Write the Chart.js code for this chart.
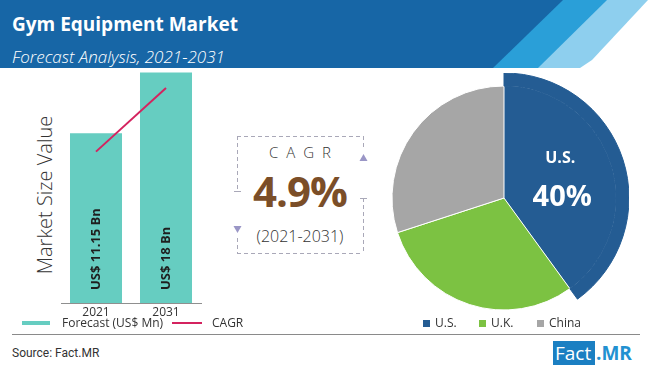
<!DOCTYPE html>
<html>
<head>
<meta charset="utf-8">
<script src="https://cdn.jsdelivr.net/npm/chart.js@4.4.1/dist/chart.umd.min.js"></script>
<style>
  body { margin: 0; }
  #page { position: relative; width: 650px; height: 372px; background: #fff; overflow: hidden; font-family: 'Open Sans', sans-serif; color: #333; }
  .abs { position: absolute; }
  .band { position: absolute; left: 0; top: 0; width: 650px; height: 68px; }
  .txt { position: absolute; white-space: nowrap; }
</style>
</head>
<body>
<div id="page">
  <!-- header -->
  <div class="band" style="background:#8ecfee; clip-path: polygon(0 0, 648px 0, 592px 60px, 580px 68px, 0 68px);"></div>
  <div class="band" style="background:#2a9fd8; clip-path: polygon(0 0, 607px 0, 538px 68px, 0 68px);"></div>
  <div class="band" style="background:#1766a6; clip-path: polygon(0 0, 563px 0, 493px 68px, 0 68px);"></div>
  <div class="txt" style="left:12px; top:14px; font-size:19px; line-height:20px; font-weight:700; color:#fff;">Gym Equipment Market</div>
  <div class="txt" style="left:12px; top:48px; font-size:17px; line-height:17px; font-style:italic; font-weight:300; color:#fff;">Forecast Analysis, 2021-2031</div>

  <!-- charts -->
  <div class="txt" style="left:45px; top:195px; transform: translate(-50%, -50%) rotate(-90deg); font-size:20px; line-height:20px; font-weight:300; color:#333;">Market Size Value</div>
  <canvas id="barChart" class="abs" width="230" height="257" style="left:0; top:68px;"></canvas>
  <canvas id="pieChart" class="abs" width="250" height="250" style="left:379px; top:73px;"></canvas>

  <!-- CAGR box -->
  <svg class="abs" style="left:230px; top:130px;" width="140" height="130">
    <g stroke="#a9a8b8" stroke-width="1" stroke-dasharray="4 3" fill="none">
      <line x1="7" y1="6.5" x2="133" y2="6.5"/>
      <line x1="7" y1="123.5" x2="133" y2="123.5"/>
      <line x1="7.5" y1="6" x2="7.5" y2="60"/>
      <line x1="7.5" y1="108" x2="7.5" y2="123"/>
      <line x1="133.5" y1="6" x2="133.5" y2="20"/>
      <line x1="133.5" y1="68" x2="133.5" y2="123"/>
    </g>
    <line x1="4" y1="61.5" x2="11" y2="61.5" stroke="#a9a8b8"/>
    <line x1="130" y1="68.5" x2="137" y2="68.5" stroke="#a9a8b8"/>
    <polygon points="3.5,96 11.5,96 7.5,103" fill="#9a96c6"/>
    <polygon points="129.5,31 137.5,31 133.5,24" fill="#9a96c6"/>
  </svg>
  <div class="txt" style="left:237px; width:126px; text-align:center; top:145px; font-size:15px; line-height:15px; letter-spacing:8px; padding-left:4px; font-weight:300; color:#333;">CAGR</div>
  <div class="txt" id="cagrValue" style="left:237px; width:126px; text-align:center; top:170px; font-size:42px; line-height:42px; font-weight:700; letter-spacing:-1px; color:#7b4e28;"></div>
  <div class="txt" style="left:237px; width:126px; text-align:center; top:228px; font-size:16px; line-height:16px; font-weight:300; color:#333;">(2021-2031)</div>

  <!-- legends -->
  <div id="barLegend"></div>
  <div id="pieLegend"></div>

  <!-- footer -->
  <div class="abs" style="left:12px; top:334px; width:628px; height:1px; background:#8a8a8a;"></div>
  <div class="txt" style="left:12px; top:347px; font-size:12px; line-height:12px; font-family:'Liberation Sans Narrow','Roboto',sans-serif; color:#333;">Source: Fact.MR</div>
  <div class="abs" style="left:553px; top:341px; width:42px; height:24px; background:#1b7fc2;"></div>
  <div class="txt" style="left:555px; top:341px; font-size:19px; line-height:24px; color:#fff;">Fact</div>
  <div class="txt" style="left:596px; top:341px; font-size:19px; line-height:24px; font-weight:700; color:#2291d1;">.MR</div>
</div>

<script>
// chart values
const years = ['2021', '2031'];
const marketSize = [11.15, 18];      // US$ Bn
const cagrTrend = [9.07, 16.24];     // CAGR line
const cagrRate = 4.9;
const regions = ['U.S.', 'U.K.', 'China'];
const regionShare = [40, 30, 30];

const tealColor = '#66cdc1';
const cagrColor = '#d4235f';
const regionColors = ['#245c93', '#7cc242', '#a6a6a6'];

document.getElementById('cagrValue').textContent = cagrRate + '%';

// text inside bars
const barLabels = {
  id: 'barLabels',
  afterDatasetsDraw(chart) {
    const ctx = chart.ctx;
    chart.getDatasetMeta(1).data.forEach((bar, i) => {
      ctx.save();
      ctx.translate(bar.x, bar.base - 13);
      ctx.rotate(-Math.PI / 2);
      ctx.font = 'bold 13px "Open Sans"';
      ctx.fillStyle = '#1f1f1f';
      ctx.textAlign = 'left';
      ctx.textBaseline = 'middle';
      ctx.fillText('US$ ' + marketSize[i] + ' Bn', 0, 0);
      ctx.restore();
    });
  }
};

new Chart(document.getElementById('barChart'), {
  type: 'bar',
  data: {
    labels: years,
    datasets: [
      { type: 'line', label: 'CAGR', data: cagrTrend, borderColor: cagrColor, borderWidth: 2, pointRadius: 0, order: 0 },
      { type: 'bar', label: 'Forecast (US$ Mn)', data: marketSize, backgroundColor: tealColor, base: -8,
        categoryPercentage: 1, barPercentage: 0.743, order: 1 }
    ]
  },
  options: {
    responsive: false,
    animation: false,
    layout: { padding: { left: 61, right: 29, top: 0, bottom: 2 } },
    plugins: { legend: { display: false }, tooltip: { enabled: false } },
    scales: {
      x: {
        offset: true,
        grid: { display: false, drawTicks: false },
        border: { display: true, color: '#8f8f8f', width: 1 },
        ticks: { color: '#333', font: { family: 'Open Sans', size: 12, lineHeight: 1 }, padding: 4 },
        afterFit(scale) { scale.height = 20; }
      },
      y: { display: false, min: -8, max: 18.5 }
    }
  },
  plugins: [barLabels]
});

// share label on the U.S. slice
const pieLabels = {
  id: 'pieLabels',
  afterDatasetsDraw(chart) {
    const ctx = chart.ctx;
    const arc = chart.getDatasetMeta(1).data[0];
    const p = arc.getCenterPoint();
    const total = regionShare.reduce((a, b) => a + b, 0);
    ctx.save();
    ctx.fillStyle = '#fff';
    ctx.textAlign = 'center';
    ctx.textBaseline = 'middle';
    ctx.font = 'bold 16px "Open Sans"';
    ctx.fillText(regions[0], p.x + 3, p.y - 22);
    ctx.font = 'bold 29px "Open Sans"';
    ctx.fillText(Math.round(regionShare[0] / total * 100) + '%', p.x + 5, p.y + 17);
    ctx.restore();
  }
};

new Chart(document.getElementById('pieChart'), {
  type: 'pie',
  data: {
    labels: regions,
    datasets: [
      { // outer rim: only the U.S. slice reaches out
        data: regionShare,
        backgroundColor: regionColors.map((c, i) => i === 0 ? c : 'rgba(0,0,0,0)'),
        borderColor: regionColors.map((c, i) => i === 0 ? c : 'rgba(0,0,0,0)'),
        borderWidth: 1, weight: 13, radius: 125
      },
      {
        data: regionShare,
        backgroundColor: regionColors,
        borderColor: '#fff',
        borderWidth: [0, 1, 1], weight: 112, radius: 125
      }
    ]
  },
  options: {
    responsive: false,
    animation: false,
    plugins: { legend: { display: false }, tooltip: { enabled: false } }
  },
  plugins: [pieLabels]
});

// legends
function legendItem(parent, left, top, w, h, color, text, textLeft) {
  const box = document.createElement('div');
  box.className = 'abs';
  box.style.cssText = `left:${left}px;top:${top}px;width:${w}px;height:${h}px;background:${color};`;
  parent.appendChild(box);
  const t = document.createElement('div');
  t.className = 'txt';
  t.style.cssText = `left:${textLeft}px;top:317px;font-size:12px;line-height:12px;color:#333;`;
  t.textContent = text;
  parent.appendChild(t);
}
const barLegend = document.getElementById('barLegend');
legendItem(barLegend, 22, 321, 28, 4, tealColor, 'Forecast (US$ Mn)', 62);
legendItem(barLegend, 172, 322, 30, 2, cagrColor, 'CAGR', 212);

const pieLegend = document.getElementById('pieLegend');
const boxX = [423, 479, 537];
regions.forEach((r, i) => legendItem(pieLegend, boxX[i], 320, 7, 7, regionColors[i], r, boxX[i] + 12));
</script>
</body>
</html>
